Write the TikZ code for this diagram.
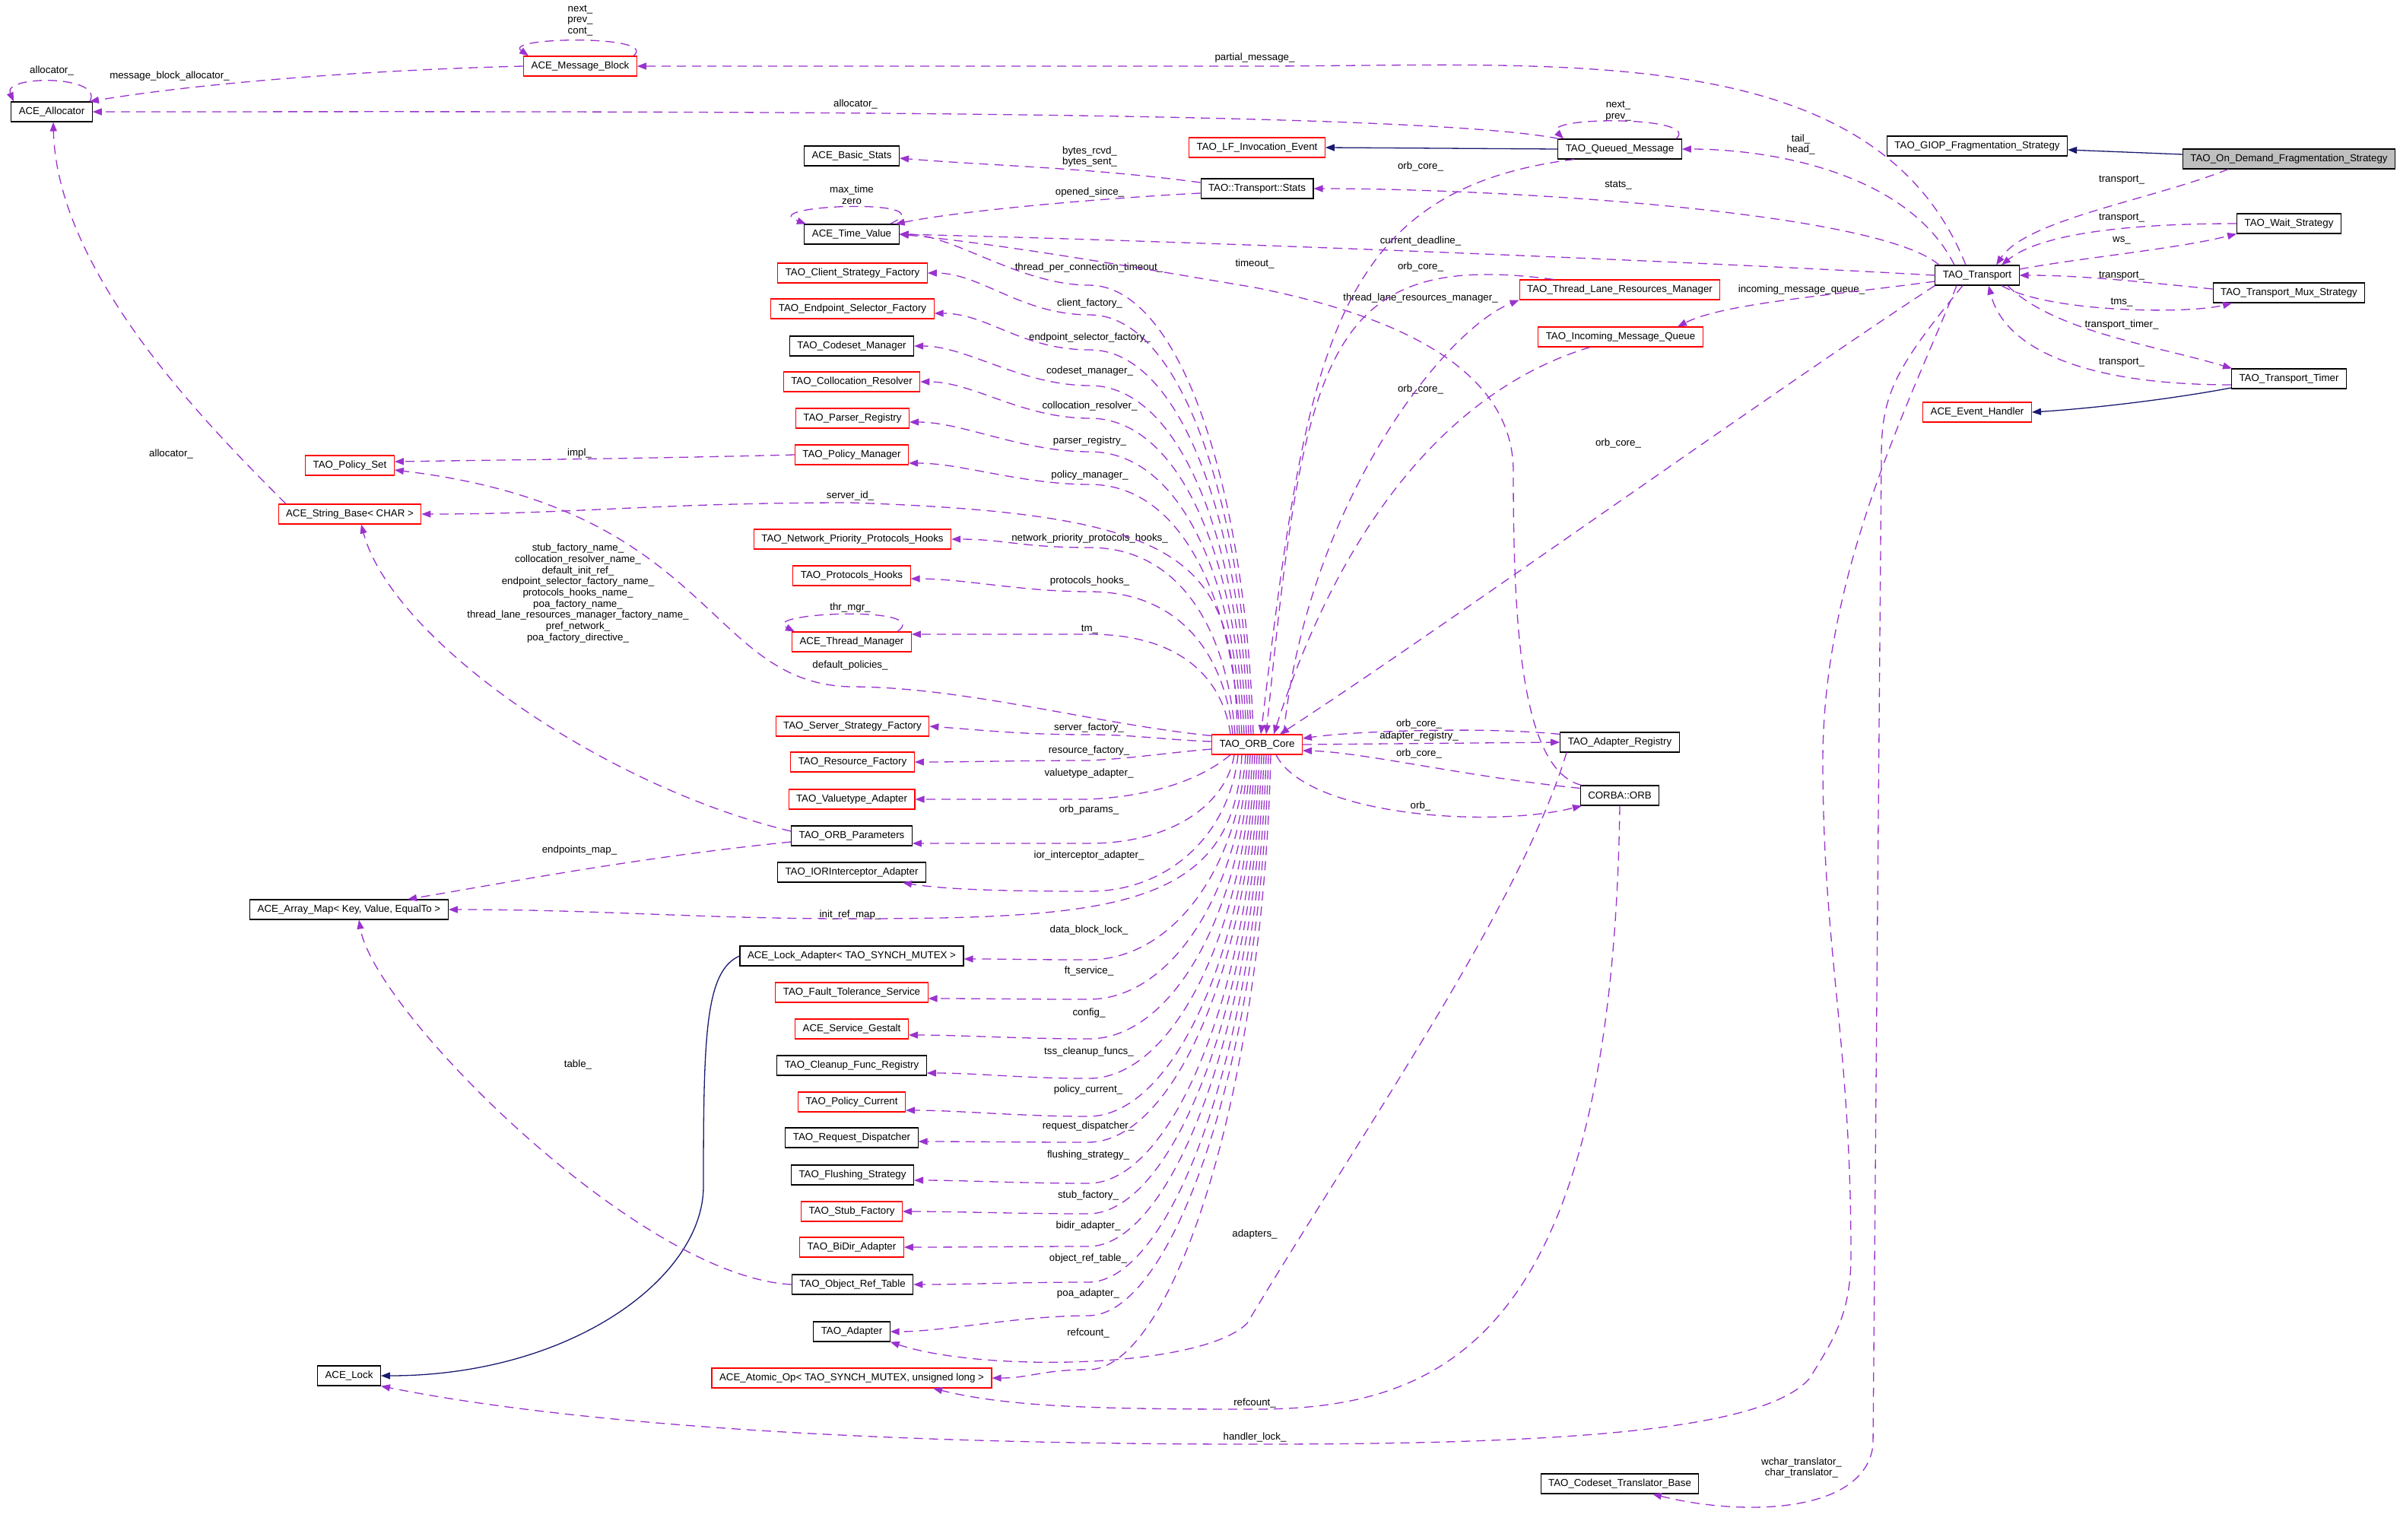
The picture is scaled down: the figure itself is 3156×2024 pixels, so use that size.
\documentclass[tikz,border=0pt]{standalone}
\usepackage{fontspec}
\setmainfont{Liberation Sans}
\usetikzlibrary{arrows.meta}

\definecolor{dpurple}{HTML}{9A32CD}
\definecolor{dblue}{HTML}{191970}
\definecolor{dred}{HTML}{FF0000}
\definecolor{dgray}{HTML}{BFBFBF}

\tikzset{
  box/.style={draw=black, fill=white, line width=1.1pt, minimum height=26pt, inner xsep=10pt, inner ysep=2pt},
  redbox/.style={box, draw=dred},
  mainbox/.style={box, fill=dgray},
  lbl/.style={inner sep=1pt, align=center},
  mem/.style={draw=dpurple, line width=1.3pt, dash pattern=on 12pt off 8pt, -{Triangle[length=12pt,width=9pt]}},
  inh/.style={draw=dblue, line width=1.3pt, -{Triangle[length=12pt,width=9pt]}}
}

\begin{document}
\begin{tikzpicture}[x=1pt,y=-1pt,every node/.style={font=\fontsize{13.3}{14.7}\selectfont}]
\useasboundingbox (0,0) rectangle (3156,2024);

% Classes on the left
\node[box] (alloc) at (68,147) {ACE\_Allocator};
\node[redbox] (msgblk) at (763,87) {ACE\_Message\_Block};
\node[redbox] (polset) at (460,612) {TAO\_Policy\_Set};
\node[redbox] (strbase) at (460,676) {ACE\_String\_Base< CHAR >};
\node[box] (arraymap) at (459,1196) {ACE\_Array\_Map< Key, Value, EqualTo >};
\node[box] (acelock) at (459,1809) {ACE\_Lock};

% Middle column
\node[box] (basicst) at (1120,205) {ACE\_Basic\_Stats};
\node[box] (timeval) at (1120,308) {ACE\_Time\_Value};
\node[redbox] (clientsf) at (1121,359) {TAO\_Client\_Strategy\_Factory};
\node[redbox] (epsel) at (1121,406) {TAO\_Endpoint\_Selector\_Factory};
\node[box] (csmgr) at (1120,455) {TAO\_Codeset\_Manager};
\node[redbox] (colres) at (1120,502) {TAO\_Collocation\_Resolver};
\node[redbox] (parser) at (1121,550) {TAO\_Parser\_Registry};
\node[redbox] (polmgr) at (1120,598) {TAO\_Policy\_Manager};
\node[redbox] (nethooks) at (1121,709) {TAO\_Network\_Priority\_Protocols\_Hooks};
\node[redbox] (prothooks) at (1120,757) {TAO\_Protocols\_Hooks};
\node[redbox] (thrmgr) at (1120,844) {ACE\_Thread\_Manager};
\node[redbox] (serversf) at (1121,955) {TAO\_Server\_Strategy\_Factory};
\node[redbox] (resf) at (1121,1002) {TAO\_Resource\_Factory};
\node[redbox] (valadp) at (1120,1051) {TAO\_Valuetype\_Adapter};
\node[box] (orbparams) at (1120,1099) {TAO\_ORB\_Parameters};
\node[box] (iorint) at (1120,1147) {TAO\_IORInterceptor\_Adapter};
\node[box] (lockadp) at (1120,1257) {ACE\_Lock\_Adapter< TAO\_SYNCH\_MUTEX >};
\node[redbox] (ftserv) at (1120,1305) {TAO\_Fault\_Tolerance\_Service};
\node[redbox] (gestalt) at (1120,1353) {ACE\_Service\_Gestalt};
\node[box] (cleanup) at (1120,1401) {TAO\_Cleanup\_Func\_Registry};
\node[redbox] (polcur) at (1120,1449) {TAO\_Policy\_Current};
\node[box] (reqdisp) at (1120,1496) {TAO\_Request\_Dispatcher};
\node[box] (flushst) at (1121,1545) {TAO\_Flushing\_Strategy};
\node[redbox] (stubf) at (1120,1593) {TAO\_Stub\_Factory};
\node[redbox] (bidir) at (1120,1640) {TAO\_BiDir\_Adapter};
\node[box] (objref) at (1121,1689) {TAO\_Object\_Ref\_Table};
\node[box] (adapter) at (1120,1751) {TAO\_Adapter};
\node[redbox] (atomic) at (1120,1812) {ACE\_Atomic\_Op< TAO\_SYNCH\_MUTEX, unsigned long >};

% Centre
\node[redbox] (lfinv) at (1653,194) {TAO\_LF\_Invocation\_Event};
\node[box] (tstats) at (1653,248) {TAO::Transport::Stats};
\node[redbox] (core) at (1653,979) {TAO\_ORB\_Core};
\node[box] (queued) at (2130,196) {TAO\_Queued\_Message};
\node[redbox] (tlrm) at (2130,381) {TAO\_Thread\_Lane\_Resources\_Manager};
\node[redbox] (incq) at (2131,443) {TAO\_Incoming\_Message\_Queue};
\node[box] (areg) at (2130,976) {TAO\_Adapter\_Registry};
\node[box] (corba) at (2130,1046) {CORBA::ORB};
\node[box] (cstrans) at (2130,1951) {TAO\_Codeset\_Translator\_Base};

% Transport side
\node[box] (giop) at (2600,192) {TAO\_GIOP\_Fragmentation\_Strategy};
\node[box] (transport) at (2600,362) {TAO\_Transport};
\node[redbox] (evh) at (2600,542) {ACE\_Event\_Handler};
\node[mainbox] (ondemand) at (3010,209) {TAO\_On\_Demand\_Fragmentation\_Strategy};
\node[box] (wait) at (3010,294) {TAO\_Wait\_Strategy};
\node[box] (mux) at (3010,385) {TAO\_Transport\_Mux\_Strategy};
\node[box] (timer) at (3010,498) {TAO\_Transport\_Timer};

% Member labels
\node[lbl] (lmsgloop) at (763,27) {next\_\\prev\_\\cont\_};
\node[lbl] (lallocloop) at (68,93) {allocator\_};
\node[lbl] (lmba) at (223,100) {message\_block\_allocator\_};
\node[lbl] (lpartial) at (1650,76) {partial\_message\_};
\node[lbl] (lalloc) at (1125,137) {allocator\_};
\node[lbl] (lqloop) at (2128,146) {next\_\\prev\_};
\node[lbl] (ltail) at (2368,190) {tail\_\\head\_};
\node[lbl] (lbytes) at (1433,206) {bytes\_rcvd\_\\bytes\_sent\_};
\node[lbl] (lqcore) at (1868,219) {orb\_core\_};
\node[lbl] (lstats) at (2128,244) {stats\_};
\node[lbl] (lopened) at (1433,253) {opened\_since\_};
\node[lbl] (ltvloop) at (1120,256) {max\_time\\zero};
\node[lbl] (ltrod) at (2790,237) {transport\_};
\node[lbl] (ltrw) at (2790,287) {transport\_};
\node[lbl] (lws) at (2790,316) {ws\_};
\node[lbl] (lcurdl) at (1868,317) {current\_deadline\_};
\node[lbl] (ltimeout) at (1650,347) {timeout\_};
\node[lbl] (ltpct) at (1432,352) {thread\_per\_connection\_timeout\_};
\node[lbl] (ltlcore) at (1868,351) {orb\_core\_};
\node[lbl] (ltrmux) at (2790,363) {transport\_};
\node[lbl] (lincq) at (2369,381) {incoming\_message\_queue\_};
\node[lbl] (ltlrm) at (1868,392) {thread\_lane\_resources\_manager\_};
\node[lbl] (ltms) at (2790,398) {tms\_};
\node[lbl] (lclient) at (1433,399) {client\_factory\_};
\node[lbl] (lttimer) at (2790,427) {transport\_timer\_};
\node[lbl] (lendp) at (1433,444) {endpoint\_selector\_factory\_};
\node[lbl] (ltrtim) at (2790,477) {transport\_};
\node[lbl] (lcsmgr) at (1433,488) {codeset\_manager\_};
\node[lbl] (liqcore) at (1868,512) {orb\_core\_};
\node[lbl] (lcolres) at (1433,534) {collocation\_resolver\_};
\node[lbl] (lparser) at (1433,580) {parser\_registry\_};
\node[lbl] (ltrcore) at (2128,583) {orb\_core\_};
\node[lbl] (lsballoc) at (225,597) {allocator\_};
\node[lbl] (limpl) at (762,596) {impl\_};
\node[lbl] (lpolmgr) at (1433,625) {policy\_manager\_};
\node[lbl] (lsrvid) at (1118,652) {server\_id\_};
\node[lbl] (lnethk) at (1433,708) {network\_priority\_protocols\_hooks\_};
\node[lbl] (lnames) at (760,780) {stub\_factory\_name\_\\collocation\_resolver\_name\_\\default\_init\_ref\_\\endpoint\_selector\_factory\_name\_\\protocols\_hooks\_name\_\\poa\_factory\_name\_\\thread\_lane\_resources\_manager\_factory\_name\_\\pref\_network\_\\poa\_factory\_directive\_};
\node[lbl] (lprothk) at (1433,764) {protocols\_hooks\_};
\node[lbl] (lthrloop) at (1118,799) {thr\_mgr\_};
\node[lbl] (ltm) at (1433,828) {tm\_};
\node[lbl] (ldefpol) at (1118,875) {default\_policies\_};
\node[lbl] (laregcore) at (1866,952) {orb\_core\_};
\node[lbl] (lsrvf) at (1432,957) {server\_factory\_};
\node[lbl] (lareg) at (1866,968) {adapter\_registry\_};
\node[lbl] (lresf) at (1432,987) {resource\_factory\_};
\node[lbl] (lcorbacore) at (1866,991) {orb\_core\_};
\node[lbl] (lvaladp) at (1432,1017) {valuetype\_adapter\_};
\node[lbl] (lorb) at (1868,1060) {orb\_};
\node[lbl] (lorbparams) at (1432,1065) {orb\_params\_};
\node[lbl] (lepmap) at (762,1118) {endpoints\_map\_};
\node[lbl] (lior) at (1432,1125) {ior\_interceptor\_adapter\_};
\node[lbl] (linit) at (1118,1203) {init\_ref\_map\_};
\node[lbl] (ldbl) at (1432,1223) {data\_block\_lock\_};
\node[lbl] (lft) at (1432,1277) {ft\_service\_};
\node[lbl] (lconfig) at (1432,1332) {config\_};
\node[lbl] (ltss) at (1432,1383) {tss\_cleanup\_funcs\_};
\node[lbl] (ltable) at (760,1400) {table\_};
\node[lbl] (lpolcur) at (1431,1433) {policy\_current\_};
\node[lbl] (lreqd) at (1431,1481) {request\_dispatcher\_};
\node[lbl] (lflush) at (1431,1519) {flushing\_strategy\_};
\node[lbl] (lstubf) at (1431,1572) {stub\_factory\_};
\node[lbl] (lbidir) at (1431,1612) {bidir\_adapter\_};
\node[lbl] (ladapters) at (1650,1623) {adapters\_};
\node[lbl] (lobjref) at (1431,1655) {object\_ref\_table\_};
\node[lbl] (lpoa) at (1431,1701) {poa\_adapter\_};
\node[lbl] (lrefc) at (1431,1753) {refcount\_};
\node[lbl] (lrefc2) at (1650,1845) {refcount\_};
\node[lbl] (lhlock) at (1650,1890) {handler\_lock\_};
\node[lbl] (lxlat) at (2369,1930) {wchar\_translator\_\\char\_translator\_};

% Inheritance
\draw[inh] ([yshift=6pt]ondemand.west) -- ([yshift=-5pt]giop.east);
\draw[inh] (queued.west) -- (lfinv.east);
\draw[inh] ([yshift=-12pt]timer.west) .. controls +(-80,15) and +(80,-5) .. (evh.east);
\draw[inh] (lockadp.west) .. controls +(-45,20) and +(0,-200) .. (925,1560) .. controls +(0,120) and +(250,0) .. (acelock.east);

% Self references
\draw[mem] ([xshift=50pt]alloc.north) .. controls +(20,-35) and +(-15,-35) .. ([xshift=-50pt]alloc.north);
\draw[mem] ([xshift=70pt]msgblk.north) .. controls +(35,-28) and +(-35,-25) .. ([xshift=-68pt]msgblk.north);
\draw[mem] ([xshift=74pt]queued.north) .. controls +(35,-30) and +(-30,-30) .. ([xshift=-74pt]queued.north);
\draw[mem] ([xshift=50pt]timeval.north) .. controls +(80,-35) and +(-70,-25) .. ([xshift=-60pt]timeval.north);
\draw[mem] ([xshift=60pt]thrmgr.north) .. controls +(50,-35) and +(-50,-25) .. ([xshift=-75pt]thrmgr.north);

% Allocators
\draw[mem] (msgblk.west) .. controls +(-200,5) and +(150,-25) .. ([xshift=50pt]alloc.north);
\draw[mem] ([xshift=-80pt]queued.north) .. controls +(-200,-40) and +(600,0) .. (alloc.east);
\draw[mem] ([xshift=-84pt]strbase.north) .. controls +(-100,-100) and +(5,200) .. ([xshift=2pt]alloc.south);

% Transport and its strategies
\draw[mem] ([xshift=-80pt]ondemand.south) .. controls +(-100,40) and +(40,-60) .. ([xshift=25pt]transport.north);
\draw[mem] (wait.west) .. controls +(-150,0) and +(50,-40) .. ([xshift=32pt]transport.north);
\draw[mem] ([yshift=8pt]transport.east) .. controls +(80,-15) and +(-80,20) .. (wait.south west);
\draw[mem] ([yshift=5pt]mux.west) .. controls +(-100,-10) and +(80,0) .. (transport.east);
\draw[mem] ([xshift=32pt]transport.south) .. controls +(60,35) and +(-60,15) .. ([xshift=-75pt]mux.south);
\draw[mem] ([xshift=40pt]transport.south) .. controls +(60,60) and +(-100,-30) .. ([xshift=-75pt]timer.north);
\draw[mem] ([yshift=-8pt]timer.west) .. controls +(-200,0) and +(20,80) .. ([xshift=15pt]transport.south);

% Transport members
\draw[mem] ([xshift=-15pt]transport.north) .. controls +(-120,-300) and +(400,0) .. ([yshift=-11pt]lpartial.center) -- (msgblk.east);
\draw[mem] ([xshift=-30pt]transport.north) .. controls +(-60,-120) and +(120,0) .. (queued.east);
\draw[mem] ([xshift=-50pt]transport.north) .. controls +(-80,-70) and +(250,0) .. (tstats.east);
\draw[mem] (transport.west) .. controls +(-350,-20) and +(350,8) .. (timeval.east);
\draw[mem] ([yshift=-8pt]transport.west) .. controls +(-150,20) and +(60,-30) .. ([xshift=75pt]incq.north);
\draw[mem] (transport.south west) .. controls +(-200,130) and +(200,-130) .. ([xshift=30pt]core.north);
\draw[mem] ([xshift=-27pt]transport.south) .. controls +(-60,150) and +(0,-250) .. (2397,1000) .. controls +(0,250) and +(0,-280) .. (2434,1650) .. controls +(0,80) and +(30,-50) .. (2380,1812) .. controls +(-60,70) and +(400,0) .. ([yshift=-9pt]lhlock.center) .. controls +(-600,0) and +(200,40) .. (acelock.south east);
\draw[mem] ([xshift=-19pt]transport.south) .. controls +(-90,110) and +(0,-80) .. (2474,600) -- (2463,1900) .. controls +(-10,90) and +(120,30) .. ([xshift=43pt]cstrans.south);

% Queued message and stats
\draw[mem] ([xshift=-60pt]queued.south) .. controls +(-320,40) and +(60,-500) .. ([xshift=5pt]core.north);
\draw[mem] ([yshift=8pt]tstats.west) .. controls +(-150,-20) and +(120,10) .. ([yshift=-3pt]basicst.east);
\draw[mem] ([yshift=-6pt]tstats.west) .. controls +(-100,5) and +(100,-20) .. ([xshift=-5pt]timeval.north east);

% Thread lanes and incoming queue
\draw[mem] ([xshift=-87pt]tlrm.north) .. controls +(-300,-40) and +(50,-500) .. ([xshift=12pt]core.north);
\draw[mem] ([xshift=35pt]core.north) .. controls +(30,-300) and +(-100,40) .. (tlrm.south west);
\draw[mem] ([xshift=-40pt]incq.south) .. controls +(-200,60) and +(80,-250) .. ([xshift=22pt]core.north);

% Adapter registry and CORBA::ORB
\draw[mem] ([yshift=-3pt]areg.north west) .. controls +(-100,-10) and +(70,-10) .. ([yshift=8pt]core.east);
\draw[mem] (core.east) -- (areg.west);
\draw[mem] ([yshift=-4pt]corba.north west) .. controls +(-150,-15) and +(80,2) .. ([yshift=-8pt]core.east);
\draw[mem] ([xshift=25pt]core.south) .. controls +(40,80) and +(-120,30) .. ([xshift=-50pt]corba.south);
\draw[mem] ([xshift=2pt]corba.north west) .. controls +(-80,-20) and +(0,200) .. (1990,620) .. controls +(0,-150) and +(150,30) .. ([yshift=-31pt]ltimeout.center) .. controls +(-150,-25) and +(150,15) .. (timeval.east);
\draw[mem] ([xshift=-70pt]areg.south) .. controls +(-60,200) and +(150,-250) .. (1640,1740) .. controls +(-60,60) and +(120,40) .. (adapter.south east);
\draw[mem] (corba.south) .. controls +(-10,700) and +(250,0) .. ([yshift=-8pt]lrefc2.center) .. controls +(-200,0) and +(100,25) .. ([xshift=107pt]atomic.south);

% ORB core members, upper fan
\draw[mem] ([xshift=-5pt]core.north) .. controls +(-10,-325) and +(120,0) .. ([yshift=-23pt]ltpct.center) .. controls +(-90,0) and +(70,0) .. (timeval.east);
\draw[mem] ([xshift=-8pt]core.north) .. controls +(-10,-304) and +(120,0) .. ([yshift=-15pt]lclient.center) .. controls +(-90,0) and +(70,0) .. (clientsf.east);
\draw[mem] ([xshift=-11pt]core.north) .. controls +(-10,-278) and +(120,0) .. ([yshift=-16pt]lendp.center) .. controls +(-90,0) and +(70,0) .. ([yshift=-6pt]epsel.east);
\draw[mem] ([xshift=-14pt]core.north) .. controls +(-10,-252) and +(120,0) .. ([yshift=-19pt]lcsmgr.center) .. controls +(-90,0) and +(70,0) .. (csmgr.east);
\draw[mem] ([xshift=-17pt]core.north) .. controls +(-10,-229) and +(120,0) .. ([yshift=-16pt]lcolres.center) .. controls +(-90,0) and +(70,0) .. (colres.east);
\draw[mem] ([xshift=-20pt]core.north) .. controls +(-10,-205) and +(120,0) .. ([yshift=-14pt]lparser.center) .. controls +(-90,0) and +(70,0) .. ([yshift=-5pt]parser.east);
\draw[mem] ([xshift=-23pt]core.north) .. controls +(-10,-181) and +(120,0) .. ([yshift=-12pt]lpolmgr.center) .. controls +(-90,0) and +(70,0) .. ([yshift=-11pt]polmgr.east);
\draw[mem] ([xshift=-26pt]core.north) .. controls +(-5,-230) and +(450,15) .. ([yshift=-9pt]lsrvid.center) .. controls +(-250,0) and +(200,0) .. (strbase.east);
\draw[mem] ([xshift=-29pt]core.north) .. controls +(-10,-135) and +(120,0) .. ([yshift=-12pt]lnethk.center) .. controls +(-90,0) and +(70,0) .. (nethooks.east);
\draw[mem] ([xshift=-32pt]core.north) .. controls +(-10,-103) and +(120,0) .. ([yshift=-14pt]lprothk.center) .. controls +(-90,0) and +(70,0) .. ([yshift=-4pt]prothooks.east);
\draw[mem] ([xshift=-35pt]core.north) .. controls +(-10,-73) and +(120,0) .. ([yshift=-6pt]ltm.center) .. controls +(-90,0) and +(70,0) .. ([yshift=10pt]thrmgr.east);
\draw[mem] ([yshift=-2pt]core.north west) .. controls +(-150,-15) and +(150,0) .. ([yshift=-28pt]ldefpol.center) .. controls +(-190,-5) and +(420,50) .. ([yshift=-6pt]polset.east);
\draw[mem] (polmgr.west) .. controls +(-200,5) and +(200,-3) .. ([yshift=5pt]polset.east);

% ORB core members, left side
\draw[mem] ([yshift=4pt]core.west) .. controls +(-60,-2) and +(60,0) .. ([yshift=-9pt]lsrvf.center) .. controls +(-90,0) and +(70,5) .. (serversf.east);
\draw[mem] ([yshift=-6pt]core.west) .. controls +(-60,5) and +(60,-3) .. ([yshift=-13pt]lresf.center) .. controls +(-90,0) and +(70,0) .. (resf.east);
\draw[mem] ([xshift=-35pt]core.south) .. controls +(-30,25) and +(100,-5) .. ([yshift=-34pt]lvaladp.center) .. controls +(-90,0) and +(70,0) .. (valadp.east);

% ORB core members, lower fan
\draw[mem] ([xshift=-30pt]core.south) .. controls +(-10,64) and +(110,0) .. ([yshift=-44pt]lorbparams.center) .. controls +(-90,0) and +(70,0) .. ([yshift=-10pt]orbparams.east);
\draw[mem] ([xshift=-25pt]core.south) .. controls +(-10,99) and +(110,0) .. ([yshift=-47pt]lior.center) .. controls +(-90,0) and +(60,10) .. ([xshift=67pt]iorint.south);
\draw[mem] ([xshift=-20pt]core.south) .. controls +(-10,200) and +(350,0) .. ([yshift=-5pt]linit.center) .. controls +(-200,0) and +(200,0) .. (arraymap.east);
\draw[mem] ([xshift=-15pt]core.south) .. controls +(-10,149) and +(110,0) .. ([yshift=-39pt]ldbl.center) .. controls +(-90,0) and +(70,0) .. ([yshift=-4pt]lockadp.east);
\draw[mem] ([xshift=-12pt]core.south) .. controls +(-10,177) and +(110,0) .. ([yshift=-37pt]lft.center) .. controls +(-90,0) and +(70,0) .. ([yshift=-8pt]ftserv.east);
\draw[mem] ([xshift=-9pt]core.south) .. controls +(-10,206) and +(110,0) .. ([yshift=-34pt]lconfig.center) .. controls +(-90,0) and +(70,0) .. ([yshift=-8pt]gestalt.east);
\draw[mem] ([xshift=-6pt]core.south) .. controls +(-10,234) and +(110,0) .. ([yshift=-35pt]ltss.center) .. controls +(-90,0) and +(70,0) .. ([yshift=-10pt]cleanup.east);
\draw[mem] ([xshift=-3pt]core.south) .. controls +(-10,262) and +(110,0) .. ([yshift=-35pt]lpolcur.center) .. controls +(-90,0) and +(70,0) .. ([yshift=-11pt]polcur.east);
\draw[mem] (core.south) .. controls +(-10,280) and +(110,0) .. ([yshift=-21pt]lreqd.center) .. controls +(-90,0) and +(70,0) .. ([yshift=-5pt]reqdisp.east);
\draw[mem] ([xshift=3pt]core.south) .. controls +(-10,310) and +(110,0) .. ([yshift=-37pt]lflush.center) .. controls +(-90,0) and +(70,0) .. ([yshift=-7pt]flushst.east);
\draw[mem] ([xshift=6pt]core.south) .. controls +(-10,332) and +(110,0) .. ([yshift=-24pt]lstubf.center) .. controls +(-90,0) and +(70,0) .. (stubf.east);
\draw[mem] ([xshift=9pt]core.south) .. controls +(-10,355) and +(110,0) .. ([yshift=-27pt]lbidir.center) .. controls +(-90,0) and +(70,0) .. (bidir.east);
\draw[mem] ([xshift=12pt]core.south) .. controls +(-10,382) and +(110,0) .. ([yshift=-31pt]lobjref.center) .. controls +(-90,0) and +(70,0) .. (objref.east);
\draw[mem] ([xshift=15pt]core.south) .. controls +(-10,407) and +(110,0) .. ([yshift=-29pt]lpoa.center) .. controls +(-90,0) and +(70,0) .. (adapter.east);
\draw[mem] ([xshift=18pt]core.south) .. controls +(-10,445) and +(110,0) .. ([yshift=-48pt]lrefc.center) .. controls +(-60,0) and +(50,0) .. (atomic.east);

% ORB parameters and object table
\draw[mem] ([yshift=6pt]orbparams.west) .. controls +(-250,-60) and +(40,150) .. ([xshift=15pt]strbase.south);
\draw[mem] ([yshift=-8pt]orbparams.west) .. controls +(-200,20) and +(120,-20) .. ([xshift=77pt]arraymap.north);
\draw[mem] (objref.west) .. controls +(-200,-10) and +(20,120) .. ([xshift=13pt]arraymap.south);

\end{tikzpicture}
\end{document}
